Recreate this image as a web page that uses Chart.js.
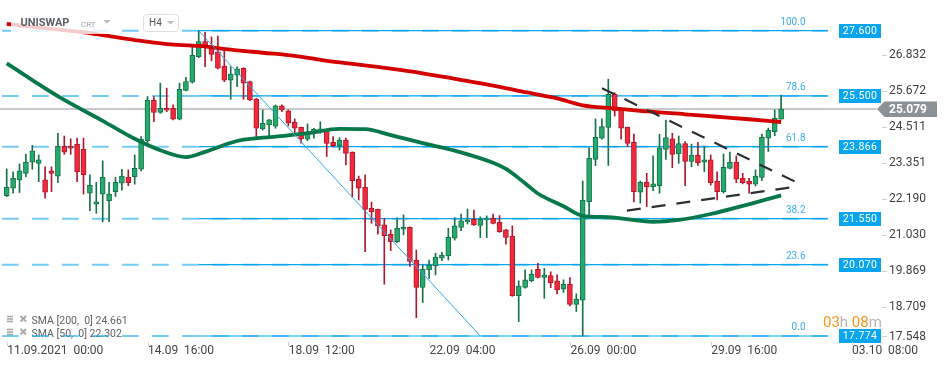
<!DOCTYPE html>
<html><head><meta charset="utf-8">
<script src="https://cdn.jsdelivr.net/npm/chart.js@4"></script>
<style>html,body{margin:0;padding:0;background:#fff;overflow:hidden}canvas{display:block}</style>
</head><body>
<canvas id="c" width="950" height="367"></canvas>
<script>
// ---- data (H4 candles, index 0 = 11.09.2021 00:00) ----
const opens  = [22.29,22.53,22.80,23.01,23.37,23.33,22.80,23.09,22.92,23.88,23.88,23.94,23.78,22.37,22.02,22.34,22.13,22.42,22.69,22.88,22.90,23.14,24.06,25.36,24.97,25.10,25.10,24.75,25.68,25.94,26.76,27.25,27.12,26.92,26.46,26.01,26.17,26.39,25.96,25.40,24.44,24.57,24.53,25.18,25.02,24.65,24.49,24.11,24.30,24.41,24.38,24.01,23.90,24.08,23.69,22.82,22.56,21.88,21.85,21.35,21.05,20.81,21.21,21.27,20.22,19.34,19.90,20.03,20.28,20.35,20.92,21.27,21.45,21.53,21.33,21.51,21.56,21.43,21.19,20.99,19.07,19.34,19.55,19.92,19.66,19.72,19.55,19.28,19.44,18.79,18.93,22.10,23.46,24.14,24.49,25.55,25.07,24.49,24.01,22.40,22.72,22.58,22.61,23.78,24.12,23.63,23.97,23.39,23.60,23.37,23.44,22.76,22.42,23.17,23.37,22.85,22.75,22.66,22.88,24.14,24.35,24.75];
const highs  = [23.15,23.06,23.31,23.62,23.91,23.60,23.22,23.22,24.30,24.21,24.12,24.14,24.14,22.96,22.72,23.41,22.72,22.88,23.14,23.12,23.60,24.19,25.48,25.48,25.91,25.75,25.21,25.91,26.10,27.09,27.60,27.55,27.40,27.43,26.95,26.44,26.44,26.41,25.98,25.42,25.05,24.75,25.21,25.21,25.05,24.76,24.50,24.60,24.46,24.67,24.40,24.19,24.16,24.14,23.70,22.92,22.96,22.08,21.86,21.56,21.19,21.58,21.67,21.29,20.54,20.06,20.22,20.44,20.47,21.24,21.58,21.70,21.86,21.83,21.61,21.64,21.70,21.65,21.21,21.32,19.55,19.90,19.90,20.11,19.95,19.84,19.74,19.58,19.65,19.13,22.76,23.83,24.76,24.76,26.04,25.60,25.08,24.50,24.27,22.76,23.01,23.57,24.27,24.72,24.30,24.21,24.03,23.95,24.01,23.89,23.60,23.06,23.63,23.69,23.57,23.01,22.85,23.12,24.27,24.46,25.05,25.53];
const lows   = [22.26,22.37,22.39,22.90,23.14,22.74,22.21,22.42,22.71,23.62,23.62,22.74,22.34,21.81,21.72,21.45,21.45,22.26,22.47,22.61,22.66,23.09,23.98,24.67,24.94,24.99,24.73,24.73,25.66,25.91,26.73,26.44,26.63,26.37,25.96,25.39,25.80,25.39,25.35,24.19,24.40,24.22,24.46,24.99,24.53,24.30,23.98,24.06,24.14,24.30,23.55,23.87,23.76,23.28,22.24,22.15,20.49,21.40,21.05,19.44,20.52,20.78,21.03,20.01,18.36,18.85,19.63,19.74,20.20,20.22,20.86,21.16,21.38,21.33,20.94,20.94,21.38,21.11,20.73,19.05,18.24,19.31,19.52,19.64,18.99,19.33,19.13,19.17,18.74,18.56,17.774,21.61,23.26,24.11,23.26,24.85,24.11,23.87,22.09,22.05,21.94,22.45,22.37,23.46,23.19,23.33,22.61,23.22,23.26,23.06,22.63,22.15,22.37,23.15,22.71,22.67,22.37,22.60,22.77,23.71,24.22,24.75];
const closes = [22.56,22.85,23.09,23.37,23.73,23.44,22.40,23.01,23.88,23.69,23.82,23.06,22.96,22.63,22.09,22.88,22.34,22.72,22.92,22.71,23.17,24.11,25.36,24.97,25.10,25.04,24.75,25.71,25.96,26.81,27.25,27.09,26.84,26.39,26.01,26.20,26.37,25.91,25.37,24.46,24.62,24.73,25.18,25.05,24.62,24.46,24.12,24.30,24.43,24.44,23.97,23.90,24.08,23.65,22.77,22.53,21.85,21.77,21.32,21.00,20.81,21.24,21.27,20.17,19.34,19.92,20.06,20.31,20.38,20.95,21.32,21.48,21.51,21.35,21.53,21.54,21.40,21.13,20.95,19.07,19.38,19.58,19.76,19.66,19.74,19.49,19.26,19.44,18.79,18.96,22.15,23.49,24.17,24.51,25.55,25.02,24.46,23.97,22.42,22.72,22.58,22.67,23.83,24.16,23.62,23.97,23.39,23.60,23.35,23.44,22.71,22.42,23.20,23.37,22.82,22.71,22.66,22.92,24.17,24.40,24.78,25.079];

const xTickIdx    = [0, 22, 44, 66, 88, 110, 132];
const xTickLabels = ['11.09.2021  00:00','14.09  16:00','18.09  12:00','22.09  04:00','26.09  00:00','29.09  16:00','03.10  08:00'];
const yTicks      = [17.548, 18.709, 19.869, 21.030, 22.190, 23.351, 24.511, 25.672, 26.832];

const fibLevels = [27.600, 25.500, 23.866, 21.550, 20.070, 17.774];
const fibPct    = ['100.0', '78.6', '61.8', '38.2', '23.6', '0.0'];

const sma200X = [0, 7, 12, 15, 20, 25, 30, 35, 40, 45, 50, 55, 60, 65, 70, 75, 80, 86, 90, 95, 100, 106, 111, 116, 121];
const sma200Y = [27.82, 27.66, 27.55, 27.46, 27.30, 27.17, 27.11, 26.99, 26.89, 26.79, 26.63, 26.51, 26.38, 26.23, 26.05, 25.87, 25.66, 25.42, 25.20, 25.10, 25.00, 24.91, 24.83, 24.75, 24.661];
const sma50X  = [0, 4, 9, 15, 20, 24, 28, 31, 36, 42, 47, 52, 56, 60, 65, 70, 76, 78, 81, 83, 87, 90, 94, 101, 105, 110, 115, 121];
const sma50Y  = [26.55, 26.01, 25.37, 24.70, 24.12, 23.75, 23.53, 23.70, 24.05, 24.19, 24.30, 24.44, 24.43, 24.24, 23.98, 23.74, 23.35, 23.15, 22.69, 22.36, 21.95, 21.64, 21.60, 21.45, 21.51, 21.70, 21.96, 22.302];

const trendX = [30, 74],      trendY = [27.600, 17.774];
const upperX = [93, 123.2],   upperY = [25.75, 22.74];
const lowerX = [96.9, 122.7], lowerY = [21.81, 22.56];
const lastPrice = 25.079;
const sma200Last = 24.661, sma50Last = 22.302;

// ---- styles ----
const GREEN = '#27a86c', GREEN_D = '#157248', RED = '#f1293d', RED_D = '#ad1a2b';
const BLUE = '#0aa5ef';
const FONT = 'Roboto, "Noto Sans", sans-serif';

const idx = opens.map((_, i) => i);
const up = idx.map(i => closes[i] >= opens[i]);
const pts = (xs, ys) => xs.map((x, k) => ({x, y: ys[k]}));

const datasets = [];
datasets.push({type:'line', data: pts(trendX, trendY), borderColor:'#2fa9ee', borderWidth:1, pointRadius:0});
datasets.push({type:'line', data: pts(upperX, upperY), borderColor:'#2c3034', borderWidth:2.2, borderDash:[14,11], pointRadius:0});
datasets.push({type:'line', data: pts(lowerX, lowerY), borderColor:'#2c3034', borderWidth:2.2, borderDash:[14,11], pointRadius:0});
datasets.push({type:'line', data: pts(sma200X, sma200Y), borderColor:'#d40000', borderWidth:3.8, pointRadius:0, cubicInterpolationMode:'monotone'});
datasets.push({type:'line', data: pts(sma50X, sma50Y), borderColor:'#07784a', borderWidth:3.8, pointRadius:0, cubicInterpolationMode:'monotone'});
datasets.push({type:'bar', data: idx.map(i => ({x:i, y:[opens[i], closes[i]]})), barThickness:5, minBarLength:1, grouped:false,
  backgroundColor: c => up[c.dataIndex] ? GREEN : RED,
  borderColor: c => up[c.dataIndex] ? GREEN_D : RED_D, borderWidth:1, borderSkipped:false});
datasets.push({type:'bar', data: idx.map(i => ({x:i, y:[lows[i], highs[i]]})), barThickness:1, grouped:false,
  backgroundColor: c => up[c.dataIndex] ? GREEN_D : RED_D, borderWidth:0});
fibLevels.forEach(l => datasets.push({type:'line', data:[{x:30,y:l},{x:128.3,y:l}], borderColor:BLUE, borderWidth:1.2, pointRadius:0}));
fibLevels.forEach(l => datasets.push({type:'line', data:[{x:-0.73,y:l},{x:128.3,y:l}], borderColor:'rgba(20,170,240,0.6)', borderWidth:2, borderDash:[16.7,13.3], pointRadius:0}));
datasets.push({type:'line', data:[{x:-1.1,y:lastPrice},{x:135.9,y:lastPrice}], borderColor:'#8d9498', borderWidth:1, pointRadius:0});

function tri(ctx, x1, y1, x2, y2, x3, y3, col) {
  ctx.beginPath(); ctx.moveTo(x1,y1); ctx.lineTo(x2,y2); ctx.lineTo(x3,y3); ctx.closePath(); ctx.fillStyle = col; ctx.fill();
}

const deco = {
  id: 'deco',
  beforeDatasetsDraw(chart) {
    const ctx = chart.ctx; ctx.save();
    const rows = [['SMA [200,  0] ' + sma200Last.toFixed(3), 321], ['SMA [50,  0] ' + sma50Last.toFixed(3), 334]];
    rows.forEach(([t, y]) => {
      ctx.strokeStyle = '#a9a9a9'; ctx.lineWidth = 1.6;
      [-4.5, -2, 0.5].forEach(d => { ctx.beginPath(); ctx.moveTo(7, y + d); ctx.lineTo(13, y + d); ctx.stroke(); });
      ctx.lineWidth = 2; ctx.beginPath();
      ctx.moveTo(20.5, y - 5); ctx.lineTo(26, y + 0.5); ctx.moveTo(26, y - 5); ctx.lineTo(20.5, y + 0.5); ctx.stroke();
      ctx.fillStyle = '#616161'; ctx.font = '10.5px ' + FONT; ctx.textBaseline = 'middle'; ctx.textAlign = 'left';
      ctx.fillText(t, 31.5, y);
    });
    ctx.restore();
  },
  afterDatasetsDraw(chart) {
    const ctx = chart.ctx; ctx.save();
    ctx.fillStyle = 'rgba(255,255,255,0.8)'; ctx.fillRect(11, 13, 100, 21);
    ctx.textBaseline = 'middle'; ctx.textAlign = 'left';
    ctx.fillStyle = '#5b6166'; ctx.font = 'bold 11px ' + FONT; ctx.fillText('UNISWAP', 20.5, 23.5);
    ctx.fillStyle = '#9aa3a8'; ctx.font = '8px ' + FONT; ctx.fillText('CRT', 81, 24.5);
    tri(ctx, 103.5, 20, 110.5, 20, 107, 23.7, '#b8b8b8');
    ctx.fillStyle = '#fff'; ctx.strokeStyle = '#dedede'; ctx.lineWidth = 1;
    ctx.beginPath(); ctx.roundRect(143.5, 14.5, 35, 17, 3); ctx.fill(); ctx.stroke();
    ctx.fillStyle = '#555'; ctx.font = '10px ' + FONT; ctx.fillText('H4', 149, 23.5);
    tri(ctx, 167, 21, 174, 21, 170.5, 24.5, '#bdbdbd');
    ctx.restore();
  },
  afterDraw(chart) {
    const ctx = chart.ctx, xs = chart.scales.x, ys = chart.scales.y;
    ctx.save();
    ctx.textBaseline = 'middle';
    fibLevels.forEach((l, k) => {
      const y = ys.getPixelForValue(l);
      ctx.fillStyle = '#3aaef0'; ctx.font = '10px ' + FONT; ctx.textAlign = 'right';
      ctx.fillText(fibPct[k], 805.5, y - 8);
      ctx.fillStyle = BLUE; ctx.fillRect(839, Math.round(y) - 7, 42, 14);
      ctx.fillStyle = '#fff'; ctx.font = '10.5px ' + FONT; ctx.textAlign = 'center';
      ctx.letterSpacing = '0.4px';
      ctx.fillText(l.toFixed(3), 860, Math.round(y) + 0.5);
      ctx.letterSpacing = '0px';
    });
    ctx.textAlign = 'left'; ctx.font = '12px ' + FONT;
    yTicks.forEach(v => {
      const y = Math.min(ys.getPixelForValue(v), 336);
      ctx.strokeStyle = '#d0d0d0'; ctx.lineWidth = 1;
      ctx.beginPath(); ctx.moveTo(882, Math.round(y) + 0.5); ctx.lineTo(887, Math.round(y) + 0.5); ctx.stroke();
      ctx.fillStyle = '#3f3f3f'; ctx.fillText(v.toFixed(3), 889, y + 0.5);
    });
    const py = ys.getPixelForValue(lastPrice);
    ctx.fillStyle = '#8a9296';
    ctx.beginPath(); ctx.moveTo(877, py); ctx.lineTo(884.5, py - 7.5); ctx.lineTo(937, py - 7.5); ctx.lineTo(937, py + 8); ctx.lineTo(884.5, py + 8); ctx.closePath(); ctx.fill();
    ctx.fillStyle = '#fff'; ctx.font = 'bold 12px ' + FONT; ctx.fillText(lastPrice.toFixed(3), 889, py + 0.5);
    ctx.font = '12px ' + FONT;
    xTickIdx.forEach((t, k) => {
      const x = xs.getPixelForValue(t);
      ctx.strokeStyle = '#d0d0d0'; ctx.beginPath(); ctx.moveTo(Math.round(x) + 0.5, 342); ctx.lineTo(Math.round(x) + 0.5, 346); ctx.stroke();
      ctx.fillStyle = '#444'; ctx.fillText(xTickLabels[k], x + 0.5, 350.5);
    });
    ctx.font = '15px ' + FONT; let cx = 823;
    [['03', '#f7941d'], ['h', '#b5b5b5'], [' 08', '#f7941d'], ['m', '#b5b5b5']].forEach(([s, c]) => {
      ctx.fillStyle = c; ctx.fillText(s, cx, 323); cx += ctx.measureText(s).width;
    });
    ctx.restore();
  }
};

new Chart(document.getElementById('c'), {
  data: { datasets },
  options: {
    responsive: false, animation: false, devicePixelRatio: 1,
    layout: { padding: { left: 0, top: 0, right: 70, bottom: 24 } },
    plugins: { legend: { display: false }, tooltip: { enabled: false } },
    scales: {
      x: { type: 'linear', min: -1.047, max: 136.45, display: false, offset: false },
      y: { type: 'linear', min: 17.548, max: 28.588, display: false }
    }
  },
  plugins: [deco]
});
</script>
</body></html>
